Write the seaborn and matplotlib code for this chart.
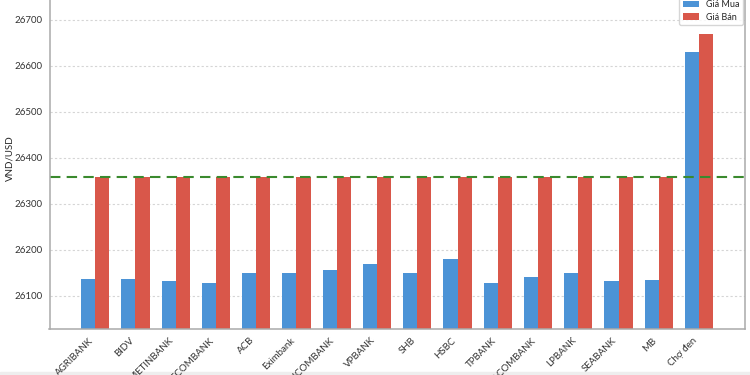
import matplotlib

matplotlib.use('Agg')
import matplotlib.pyplot as plt
import pandas as pd
import seaborn as sns

# dữ liệu
banks = ['AGRIBANK', 'BIDV', 'VIETINBANK', 'VIETCOMBANK', 'ACB', 'Eximbank',
         'TECHCOMBANK', 'VPBANK', 'SHB', 'HSBC', 'TPBANK', 'SACOMBANK',
         'LPBANK', 'SEABANK', 'MB', 'Chợ đen']
gia_mua = [26137, 26137, 26132, 26128, 26150, 26150, 26156, 26169,
           26150, 26180, 26128, 26140, 26150, 26133, 26135, 26630]
gia_ban = [26358, 26358, 26358, 26358, 26358, 26358, 26358, 26358,
           26358, 26358, 26358, 26358, 26358, 26358, 26358, 26670]
ref_line = 26358
series_names = ['Giá Mua', 'Giá Bán']
colors = ['#4C93D6', '#D9574A']

df = pd.DataFrame({
    'bank': banks * 2,
    'price': gia_mua + gia_ban,
    'type': [series_names[0]] * len(banks) + [series_names[1]] * len(banks),
})

sns.set_style('white')
plt.rcParams['font.family'] = ['Lato', 'DejaVu Sans']

fig = plt.figure(figsize=(7.5, 3.75), dpi=100)
# trục hơi vượt quá mép trên như ảnh gốc (bị cắt)
ax = fig.add_axes([0.066, 0.123, 0.927, 0.91])

sns.barplot(data=df, x='bank', y='price', hue='type', hue_order=series_names,
            palette=colors, width=0.7, ax=ax, errorbar=None, saturation=1,
            linewidth=0)

ax.axhline(ref_line, color='#3A8A2E', linestyle=(0, (5, 3)), linewidth=1.5)

lo = min(gia_mua) - 100
hi = max(gia_ban) + 100
ax.set_ylim(lo, hi)
n = len(banks)
ax.set_xlim(-1.135, n - 1 + 1.135)

ax.yaxis.grid(True, linestyle=(0, (2, 2)), color='#d5d5d5', linewidth=0.8)
ax.xaxis.grid(False)
ax.set_axisbelow(True)

ax.set_xlabel('')
ax.set_ylabel('VND/USD', fontsize=7)
ax.yaxis.set_label_coords(-0.05, 0.5)
ax.tick_params(axis='both', labelsize=7, length=3, pad=2, color='#999999', colors='#333333')
plt.setp(ax.get_xticklabels(), rotation=45, ha='right', rotation_mode='default')

for sp in ax.spines.values():
    sp.set_color('#aaaaaa')
    sp.set_linewidth(1.1)

ax.legend(loc='lower right', bbox_to_anchor=(0.991, 0.933), bbox_transform=fig.transFigure,
          borderaxespad=0, fontsize=6.5, frameon=True, handlelength=1.8,
          labelspacing=0.4, fancybox=True)

# dải nền xám mảnh ở mép dưới như ảnh chụp gốc
fig.patches.append(plt.Rectangle((0, 0), 1, 0.007, transform=fig.transFigure,
                                 color='#eeeeee', zorder=-1))

fig.savefig('out.png', dpi=100)
plt.close()
